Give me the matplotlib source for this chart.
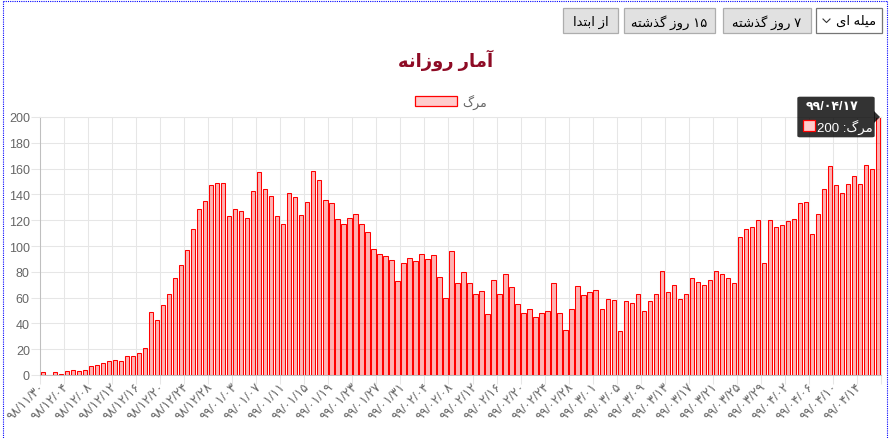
import matplotlib
matplotlib.use('Agg')
import numpy as np
import matplotlib.pyplot as plt
from matplotlib.patches import Rectangle, FancyBboxPatch, Polygon
from matplotlib.lines import Line2D

plt.rcParams['font.family'] = ['Liberation Sans', 'DejaVu Sans']

# daily deaths, by persian month (98/11/30 .. 99/04/17)
deaths_esfand = [2, 0, 2, 1, 3, 4, 3, 4, 7, 8, 9, 11, 12, 11, 15, 15, 17, 21, 49, 43,
                 54, 63, 75, 85, 97, 113, 129, 135, 147, 149]
deaths_farvardin = [149, 123, 129, 127, 122, 143, 157, 144, 139, 123, 117, 141, 138, 124,
                    134, 158, 151, 136, 133, 121, 117, 122, 125, 117, 111, 98, 94, 92, 89, 73, 87]
deaths_ordibehesht = [91, 88, 94, 90, 93, 76, 60, 96, 71, 80, 71, 63, 65, 47, 74, 63, 78, 68,
                      55, 48, 51, 45, 48, 50, 71, 48, 35, 51, 69, 62, 64]
deaths_khordad = [66, 51, 59, 58, 34, 57, 56, 63, 50, 57, 63, 81, 64, 70, 59, 63, 75, 72, 70,
                  74, 81, 78, 75, 71, 107, 113, 115, 120, 87, 120, 115]
deaths_tir = [116, 119, 121, 133, 134, 109, 125, 144, 162, 147, 141, 148, 154, 148, 163, 160, 200]

# every 4th day is labelled
xlabels = ['۹۸/۱۱/۳۰', '۹۸/۱۲/۰۴', '۹۸/۱۲/۰۸', '۹۸/۱۲/۱۲', '۹۸/۱۲/۱۶', '۹۸/۱۲/۲۰',
           '۹۸/۱۲/۲۴', '۹۸/۱۲/۲۸', '۹۹/۰۱/۰۳', '۹۹/۰۱/۰۷', '۹۹/۰۱/۱۱', '۹۹/۰۱/۱۵',
           '۹۹/۰۱/۱۹', '۹۹/۰۱/۲۳', '۹۹/۰۱/۲۷', '۹۹/۰۱/۳۱', '۹۹/۰۲/۰۴', '۹۹/۰۲/۰۸',
           '۹۹/۰۲/۱۲', '۹۹/۰۲/۱۶', '۹۹/۰۲/۲۰', '۹۹/۰۲/۲۴', '۹۹/۰۲/۲۸', '۹۹/۰۳/۰۱',
           '۹۹/۰۳/۰۵', '۹۹/۰۳/۰۹', '۹۹/۰۳/۱۳', '۹۹/۰۳/۱۷', '۹۹/۰۳/۲۱', '۹۹/۰۳/۲۵',
           '۹۹/۰۳/۲۹', '۹۹/۰۴/۰۲', '۹۹/۰۴/۰۶', '۹۹/۰۴/۱۰', '۹۹/۰۴/۱۴']
last_day = '۹۹/۰۴/۱۷'

deaths = deaths_esfand + deaths_farvardin + deaths_ordibehesht + deaths_khordad + deaths_tir

# arabic presentation forms: isolated, final, initial, medial
FORMS = {
    'ا': '\uFE8D\uFE8E', 'آ': '\uFE81\uFE82', 'د': '\uFEA9\uFEAA', 'ذ': '\uFEAB\uFEAC',
    'ر': '\uFEAD\uFEAE', 'ز': '\uFEAF\uFEB0', 'و': '\uFEED\uFEEE',
    'ب': '\uFE8F\uFE90\uFE91\uFE92', 'ت': '\uFE95\uFE96\uFE97\uFE98',
    'ش': '\uFEB5\uFEB6\uFEB7\uFEB8', 'ل': '\uFEDD\uFEDE\uFEDF\uFEE0',
    'م': '\uFEE1\uFEE2\uFEE3\uFEE4', 'ن': '\uFEE5\uFEE6\uFEE7\uFEE8',
    'ه': '\uFEE9\uFEEA\uFEEB\uFEEC', 'ی': '\uFBFC\uFBFD\uFBFE\uFBFF',
    'گ': '\uFB92\uFB93\uFB94\uFB95',
}


def rtl(text):
    out = []
    for i, ch in enumerate(text):
        f = FORMS.get(ch)
        if f is None:
            out.append(ch)
            continue
        prev = text[i - 1] if i > 0 else ''
        nxt = text[i + 1] if i + 1 < len(text) else ''
        jp = prev in FORMS and len(FORMS[prev]) == 4
        jn = len(f) == 4 and nxt in FORMS
        k = 3 if (jp and jn) else 1 if jp else 2 if jn else 0
        out.append(f[k])
    return ''.join(reversed(out))


W, H = 890, 439


def px(x):
    return x / W


def py(y):
    return 1 - y / H


fig = plt.figure(figsize=(W / 100, H / 100), dpi=100)
ax = fig.add_axes([px(40), py(376), (881 - 40) / W, (376 - 118) / H])

n = len(deaths)
x = np.arange(n) + 0.5
bars = ax.bar(x, deaths, width=0.72, facecolor=(1, 0, 0, 0.3), edgecolor='#ff0000',
              linewidth=0.75)

ax.set_xlim(0, n)
ax.set_ylim(0, 200)
ax.set_yticks(np.arange(0, 201, 20))
ax.set_xticks(x[::4])
ax.set_xticklabels(xlabels)
ax.set_xticks(np.arange(0, n + 1, 4), minor=True)
ax.set_axisbelow(True)
grid_c = '#e6e6e6'
ax.grid(which='minor', axis='x', color=grid_c, lw=0.75)
ax.grid(which='major', axis='y', color=grid_c, lw=0.75)
ax.tick_params(axis='x', which='major', length=0, pad=7, labelsize=9, labelcolor='#666666')
ax.tick_params(axis='x', which='minor', length=6.5, color=grid_c, width=0.75)
ax.tick_params(axis='y', length=6.5, color=grid_c, width=0.75, pad=0.8,
               labelsize=9, labelcolor='#666666')
for lbl in ax.get_xticklabels():
    lbl.set_rotation(45)
    lbl.set_ha('right')
    lbl.set_va('center')
    lbl.set_rotation_mode('anchor')
for side in ['left', 'bottom']:
    ax.spines[side].set_color('#bfbfbf')
    ax.spines[side].set_linewidth(0.75)
for side in ['top', 'right']:
    ax.spines[side].set_color(grid_c)
    ax.spines[side].set_linewidth(0.75)

# title + legend
fig.text(px(446), py(60), rtl('آمار روزانه'), ha='center', va='center',
         fontsize=13, fontweight='bold', color='#8e0b25')
legend_box = Rectangle((0, 0), 1, 1, fc='#ffcccc', ec='#ff0000', lw=0.9)
ax.legend([legend_box], [rtl('مرگ')], loc='center', bbox_to_anchor=(px(451), py(102)),
          bbox_transform=fig.transFigure, frameon=False, fontsize=9, labelcolor='#666666',
          handlelength=3.4, handleheight=0.9, handletextpad=0.4)


# buttons on top
def button(x0, y0, x1, y1, label, fc='#e1e1e1', ec='#adadad'):
    fig.patches.append(Rectangle((px(x0), py(y1)), px(x1) - px(x0), py(y0) - py(y1),
                                 transform=fig.transFigure, fc=fc, ec=ec, lw=0.9))
    fig.text(px((x0 + x1) / 2), py((y0 + y1) / 2 + 1), label, ha='center', va='center',
             fontsize=9.5, color='black')


button(563, 9, 618, 34, rtl('از ابتدا'))
button(624, 9, 715, 34, rtl('روز گذشته') + ' ۱۵')
button(723, 9, 811, 34, rtl('روز گذشته') + ' ۷')
fig.patches.append(Rectangle((px(816), py(34)), px(882) - px(816), py(9) - py(34),
                             transform=fig.transFigure, fc='white', ec='#767676', lw=0.9))
fig.text(px(876), py(22), rtl('میله ای'), ha='right', va='center', fontsize=9.5, color='black')
fig.lines.append(Line2D([px(823), px(826.5), px(830)], [py(20), py(23.5), py(20)],
                        transform=fig.transFigure, color='#333333', lw=0.8))

# tooltip on the last bar
fig.patches.append(FancyBboxPatch((px(800), py(137)), px(872) - px(800), py(99) - py(137),
                                  boxstyle='round,pad=0.003', transform=fig.transFigure,
                                  fc=(0, 0, 0, 0.8), ec='none'))
fig.patches.append(Polygon([[px(874), py(112)], [px(880), py(118)], [px(874), py(124)]],
                           closed=True, transform=fig.transFigure, fc=(0, 0, 0, 0.8), ec='none'))
fig.text(px(806), py(107), last_day, ha='left', va='center', fontsize=9,
         fontweight='bold', color='white')
fig.patches.append(Rectangle((px(803), py(132)), px(815) - px(803), py(121) - py(132),
                             transform=fig.transFigure, fc='#ffcccc', ec='red', lw=0.9))
fig.text(px(817), py(127), '%d :' % deaths[-1] + rtl('مرگ'), ha='left', va='center',
         fontsize=9.5, color='white')

# dotted frame of the page
frame = dict(transform=fig.transFigure, color='blue', lw=0.8, ls=(0, (1, 1)))
fig.lines.append(Line2D([px(2.5), px(2.5)], [py(1.5), 0], **frame))
fig.lines.append(Line2D([px(2.5), px(886.5)], [py(1.5), py(1.5)], **frame))
fig.lines.append(Line2D([px(886.5), px(886.5)], [py(1.5), 0], **frame))

fig.savefig('out.png', dpi=100)
